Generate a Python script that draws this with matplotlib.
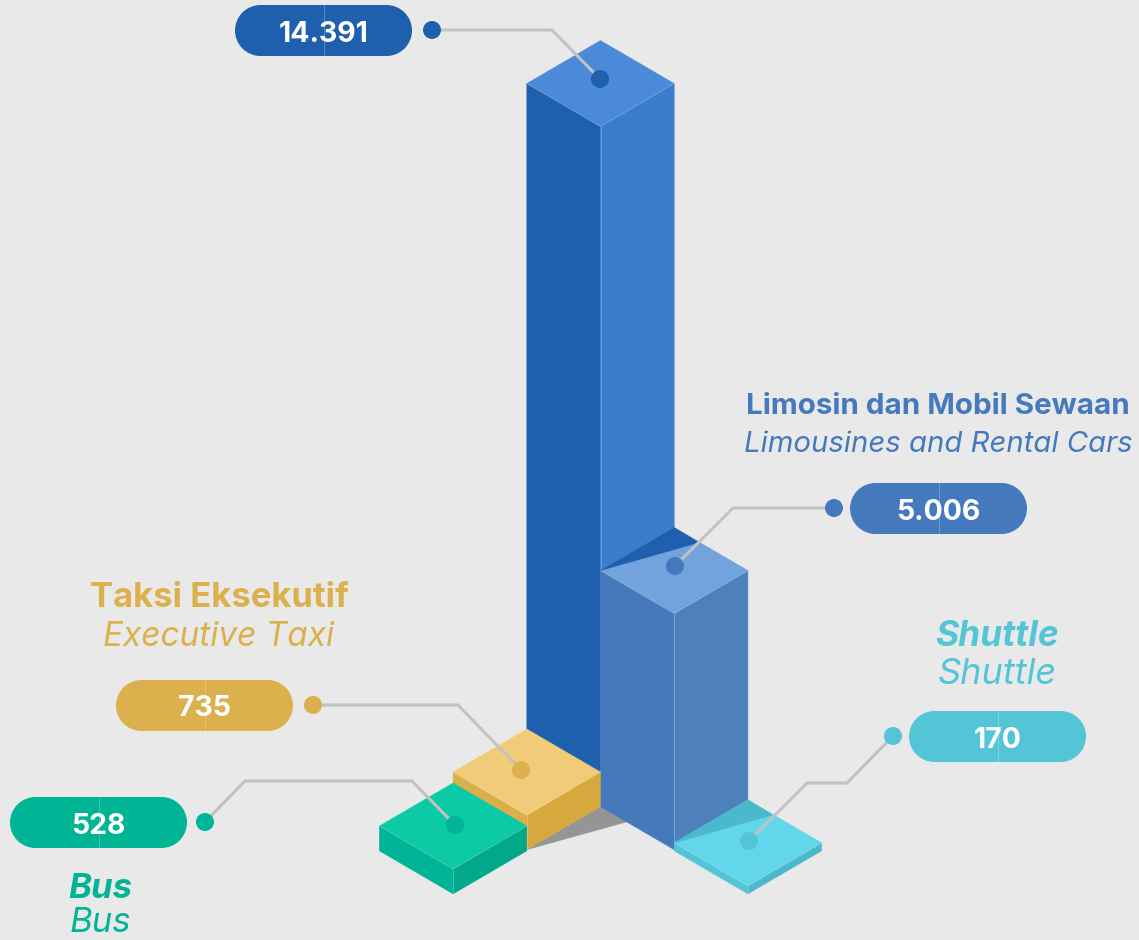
import matplotlib
matplotlib.use("Agg")
import matplotlib.pyplot as plt
from matplotlib.patches import Polygon, Rectangle, Circle

# data
values = [14391, 5006, 735, 528, 170]
value_labels = ["14.391", "5.006", "735", "528", "170"]
names_id = [None, "Limosin dan Mobil Sewaan", "Taksi Eksekutif", "Bus", "Shuttle"]
names_en = [None, "Limousines and Rental Cars", "Executive Taxi", "Bus", "Shuttle"]

# layout, in pixels of the picture
grid = [(0, 0), (1, 0), (0, 1), (0, 2), (2, 0)]
pill_left = [235, 850, 116, 10, 909]
pill_top = [5, 483, 680, 797, 711]
pill_w, pill_h = 177, 51
name_x = [None, 938, 219, 100, 997]
name_y = [None, 406, 598, 889, 637]
sub_y = [None, 445, 637, 923, 675]
name_size = [None, 21.3, 25, 25, 25.5]
sub_size = [None, 21.1, 24, 25, 26]
name_italic = [False, False, False, True, True]
leaders = [
    [(432, 30), (552, 30), (600, 79)],
    [(834, 508), (733, 508), (675, 566)],
    [(313, 705), (458, 705), (521, 770)],
    [(205, 822), (245, 781), (412, 781), (455, 825)],
    [(893, 736), (847, 783), (807, 783), (749, 841)],
]

# styles
bg = "#E9E9E9"
accent = ["#1F60AE", "#4579BE", "#DCB04C", "#00B596", "#53C5D6"]
left_col = ["#1F60AE", "#4678BC", "#DBB04C", "#00B596", "#53C5D6"]
right_col = ["#3B7CCD", "#4E80B9", "#D6A93E", "#02A88A", "#4CB8CB"]
top_col = ["#4A8AD9", "#72A3DD", "#F1CB77", "#0CCAA6", "#62D6EA"]
shade_col = [None, "#1E60AE", None, None, "#4CB8CC"]

x0, y0 = 600.5, 805.5  # front ground corner of the tall bar
step_x, step_y = 73.7, 44.2
half_w, half_h = 73.7, 43
scale = 679 / 14391  # pixels per unit

plt.rcParams["font.family"] = ["Inter", "DejaVu Sans"]
fig = plt.figure(figsize=(11.39, 9.40), dpi=100, facecolor=bg)
ax = fig.add_axes([0, 0, 1, 1])
ax.set_xlim(0, 1139)
ax.set_ylim(940, 0)
ax.axis("off")


def poly(pts, color, z):
    ax.add_patch(Polygon(pts, closed=True, facecolor=color, edgecolor=color, lw=0.3, zorder=z))


# shadow on the floor, between the taxi and limo bars
fx, fy = x0 + step_x * (grid[2][0] - grid[2][1]), y0 + step_y * (grid[2][0] + grid[2][1])
poly([(fx, fy), (fx + half_w, fy - half_h), (fx + half_w + 27, fy - half_h + 15)], "#959595", 1)

for i, val in enumerate(values):
    c, r = grid[i]
    bx = x0 + step_x * (c - r)
    by = y0 + step_y * (c + r)
    h = val * scale
    ty = by - h
    z = 2 + i
    poly([(bx - half_w, by - half_h), (bx, by), (bx, ty), (bx - half_w, ty - half_h)], left_col[i], z)
    poly([(bx + half_w, by - half_h), (bx, by), (bx, ty), (bx + half_w, ty - half_h)], right_col[i], z)
    poly([(bx, ty), (bx - half_w, ty - half_h), (bx, ty - 2 * half_h), (bx + half_w, ty - half_h)], top_col[i], z)
    # thin light edges
    edge = "#FFFFFF"
    ax.plot([bx, bx], [ty, by], color=edge, alpha=0.25, lw=0.7, zorder=z)
    ax.plot([bx - half_w, bx, bx + half_w], [ty - half_h, ty, ty - half_h], color=edge, alpha=0.2, lw=0.6, zorder=z)
    if shade_col[i]:
        back = (bx, ty - 2 * half_h)
        lft = (bx - half_w, ty - half_h)
        poly([lft, back, (bx + 25, ty - 2 * half_h + 15)], shade_col[i], z)

for i, lab in enumerate(value_labels):
    pts = leaders[i]
    ax.plot([p[0] for p in pts], [p[1] for p in pts], color="#C2C2C2", lw=2.2,
            solid_joinstyle="miter", zorder=10)
    for p in (pts[0], pts[-1]):
        ax.add_patch(Circle(p, 9, facecolor=accent[i], edgecolor="none", zorder=11))

    xl, yt = pill_left[i], pill_top[i]
    rad = pill_h / 2
    ax.add_patch(Rectangle((xl + rad, yt), pill_w - 2 * rad, pill_h, facecolor=accent[i], edgecolor="none", zorder=11))
    ax.add_patch(Circle((xl + rad, yt + rad), rad, facecolor=accent[i], edgecolor="none", zorder=11))
    ax.add_patch(Circle((xl + pill_w - rad, yt + rad), rad, facecolor=accent[i], edgecolor="none", zorder=11))
    ax.plot([xl + pill_w / 2] * 2, [yt, yt + pill_h], color="#FFFFFF", alpha=0.25, lw=0.7, zorder=12)
    ax.text(xl + pill_w / 2, yt + pill_h / 2 + 3.5, lab, color="white", fontsize=20.5, fontweight="bold",
            ha="center", va="center", zorder=13)

    if names_id[i]:
        ax.text(name_x[i], name_y[i], names_id[i], color=accent[i], fontsize=name_size[i], fontweight="bold",
                style="italic" if name_italic[i] else "normal", ha="center", va="center", zorder=13)
        ax.text(name_x[i], sub_y[i], names_en[i], color=accent[i], fontsize=sub_size[i], fontweight="normal",
                style="italic", ha="center", va="center", zorder=13)

fig.savefig("out.png", dpi=100, facecolor=bg)
